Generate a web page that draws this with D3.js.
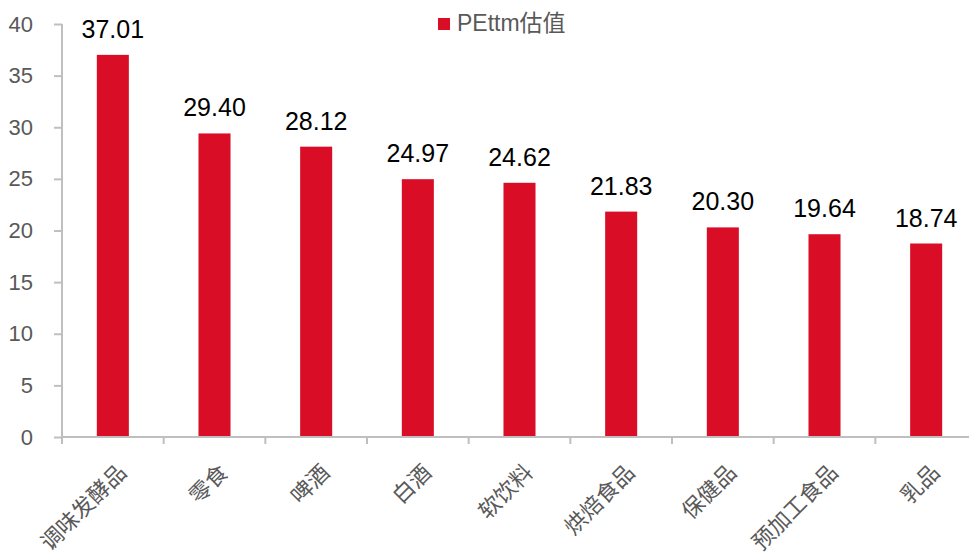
<!DOCTYPE html>
<html><head><meta charset="utf-8">
<script src="https://cdn.jsdelivr.net/npm/d3@7"></script>
<style>body{margin:0;background:#fff}svg{display:block}</style>
</head><body>
<svg id="c" width="969" height="554"></svg>
<script>
const categories = ["调味发酵品","零食","啤酒","白酒","软饮料","烘焙食品","保健品","预加工食品","乳品"];
const values = [37.01,29.40,28.12,24.97,24.62,21.83,20.30,19.64,18.74];
const yTicks = [0,5,10,15,20,25,30,35,40];
const seriesName = "PEttm估值";

const svg = d3.select("#c");
const font = "Arial, 'Liberation Sans', 'Noto Sans CJK SC', sans-serif";
const barColor = "#d90d26", axisColor = "#bfbfbf", textGray = "#595959";

const x = d3.scaleBand().domain(categories).range([62, 977]).paddingInner(0.685).paddingOuter(0.3425);
const y = d3.scaleLinear().domain([0, 40]).range([437, 24]);

// y axis
const ya = svg.append("g").attr("transform","translate(62,0)")
  .call(d3.axisLeft(y).tickValues(yTicks).tickSize(8).tickPadding(21));
ya.select(".domain").attr("stroke", axisColor).attr("stroke-width",2).attr("d","M0,24V437");
ya.selectAll(".tick line").attr("stroke", axisColor).attr("stroke-width",2);
ya.selectAll(".tick text").attr("fill", textGray).style("font-family", font).style("font-size","22px");

// bars
svg.selectAll("rect.bar").data(values).join("rect").attr("class","bar")
  .attr("x",(d,i)=>x(categories[i])).attr("width", x.bandwidth())
  .attr("y", d=>y(d)).attr("height", d=>y(0)-y(d)).attr("fill", barColor);

// x axis
const step = x.step();
const xa = svg.append("g").attr("transform","translate(0,437)");
xa.append("line").attr("x1",61).attr("x2",969).attr("y1",0).attr("y2",0).attr("stroke",axisColor).attr("stroke-width",2);
xa.selectAll("line.tk").data(d3.range(categories.length+1)).join("line").attr("class","tk")
  .attr("x1", i=>62+i*step).attr("x2", i=>62+i*step).attr("y1",0).attr("y2",7)
  .attr("stroke",axisColor).attr("stroke-width",2);
xa.selectAll("text").data(categories).join("text")
  .attr("transform", d=>`translate(${x(d)+x.bandwidth()/2+4},${26}) rotate(-45)`)
  .attr("text-anchor","end").attr("dy","0.7em")
  .attr("fill", textGray).style("font-family", font).style("font-size","22px").text(d=>d);

// value labels
svg.selectAll("text.val").data(values).join("text").attr("class","val")
  .attr("x",(d,i)=>x(categories[i])+x.bandwidth()/2).attr("y", d=>y(d)-17)
  .attr("text-anchor","middle").attr("fill","#000").style("font-family", font).style("font-size","25px")
  .text(d=>d.toFixed(2));

// legend
const lg = svg.append("g");
lg.append("rect").attr("x",438).attr("y",18).attr("width",12).attr("height",12).attr("fill",barColor);
lg.append("text").attr("x",457).attr("y",31).attr("fill",textGray).style("font-family",font).style("font-size","23px").text(seriesName);
</script>
</body></html>
